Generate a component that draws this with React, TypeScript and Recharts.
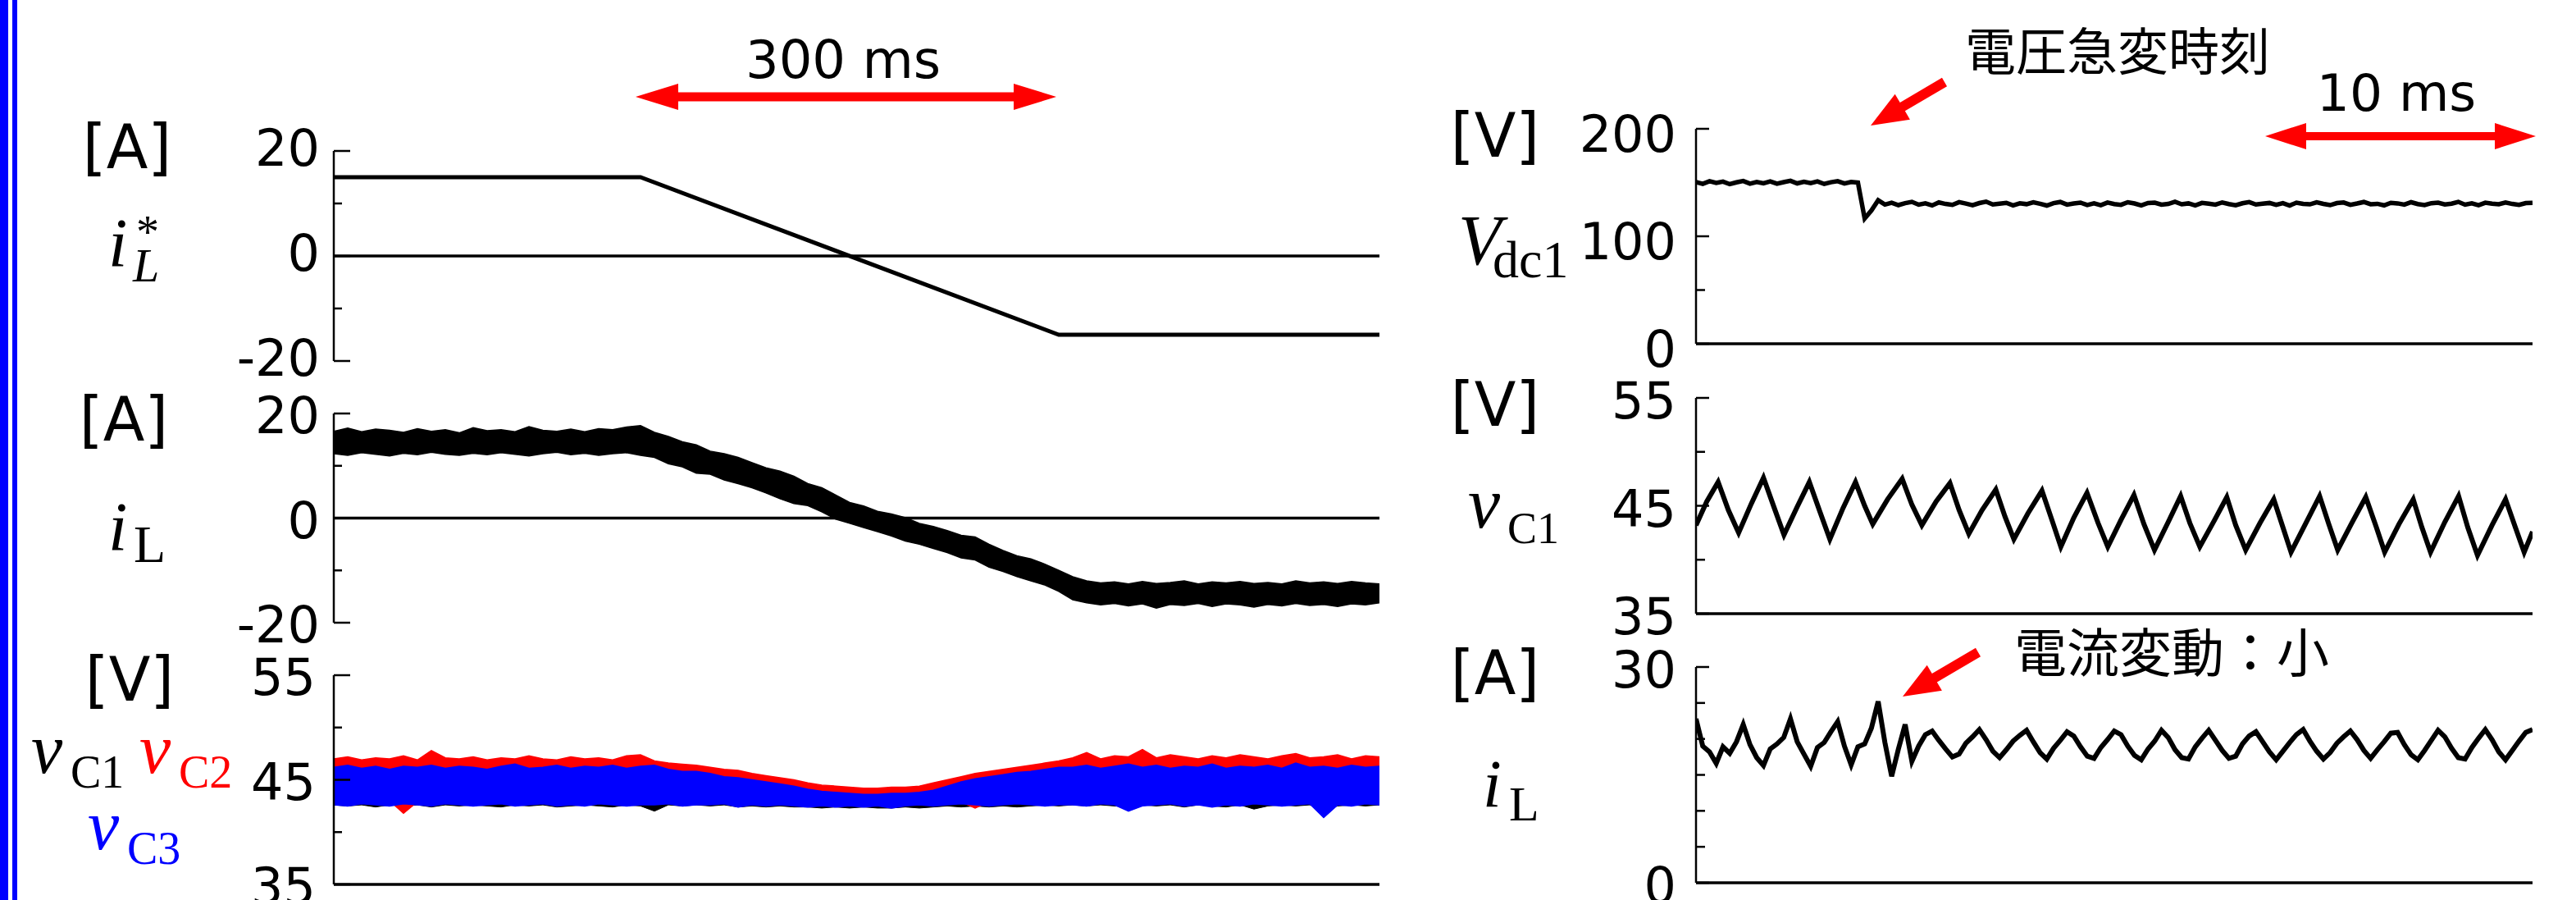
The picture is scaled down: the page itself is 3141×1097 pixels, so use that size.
import React from "react";
import { ComposedChart, Line, Area, XAxis, YAxis, ReferenceLine } from "recharts";

// sample periods of the scope traces
const LEFT_DT = 10; // ms, left column (750 ms window)
const RIGHT_DT = 0.25; // ms, right column (31 ms window)

// i_L* command
const cmdT = [0, 220, 520, 750];
const cmdV = [15, 15, -15, -15];

// i_L (left) band, upper / lower edge every 10 ms
const iLHi = [
  16.6, 17.2, 16.5, 17.0, 16.8, 16.4, 17.1, 16.6, 16.9, 16.3, 17.3, 16.7, 16.9, 16.5, 17.5, 16.8, 16.6, 17.0, 16.5, 17.1, 16.9, 17.4, 17.7,
  16.4, 15.6, 14.6, 14.0, 12.8, 12.3, 11.6, 10.6, 9.6, 9.0, 8.0, 6.6, 5.8, 4.4, 3.0, 2.3, 1.3, 0.8, 0.1, -1.0, -1.6, -2.4, -3.3, -3.6, -5.0, -6.2, -7.2, -7.8, -8.8, -10.0, -11.2, -12.0,
  -12.4, -12.2, -12.6, -12.1, -12.5, -12.3, -12.0, -12.6, -12.2, -12.4, -12.1, -12.5, -12.3, -12.6, -12.0, -12.4, -12.2, -12.5, -12.1, -12.4, -12.6,
];
const iLLo = [
  12.3, 12.0, 12.5, 12.2, 11.9, 12.4, 12.1, 12.6, 12.2, 12.0, 12.4, 12.1, 12.5, 12.2, 11.9, 12.3, 12.6, 12.1, 12.4, 12.0, 12.3, 12.5, 12.0,
  11.6, 10.4, 9.8, 8.6, 8.4, 7.3, 6.6, 5.8, 4.8, 3.7, 2.8, 2.4, 1.2, -0.2, -1.0, -1.8, -2.6, -3.4, -4.4, -5.0, -5.8, -6.6, -7.6, -8.0, -9.4, -10.2, -11.2, -12.0, -12.8, -14.0, -15.6, -16.2,
  -16.6, -16.3, -16.8, -16.4, -17.2, -16.5, -16.7, -16.3, -16.9, -16.4, -16.6, -17.0, -16.5, -16.8, -16.3, -16.7, -16.5, -16.9, -16.4, -16.6, -16.2,
];

// capacitor voltages (left), band edges every 10 ms
const vC1Hi = [
  45.9, 46.0, 45.8, 46.1, 45.9, 45.8, 46.0, 45.9, 46.1, 45.8, 46.0, 45.9, 45.8, 46.1, 45.9, 46.0, 45.8, 45.9, 46.1, 45.9, 46.0, 45.8, 46.0,
  45.9, 45.7, 45.5, 45.4, 45.2, 45.0, 44.9, 44.7, 44.5, 44.3, 44.1, 43.9, 43.7, 43.6, 43.5, 43.4, 43.4, 43.5, 43.5, 43.6, 43.8, 44.1, 44.5, 44.8, 45.0, 45.2, 45.4, 45.5, 45.7, 45.9,
  45.9, 46.1, 45.8, 46.0, 45.9, 46.1, 45.8, 46.0, 45.9, 46.1, 45.8, 46.0, 45.9, 45.8, 46.1, 45.9, 46.0, 45.8, 46.1, 45.9, 46.0, 45.8, 45.9,
];
const vC1Lo = [
  42.6, 42.5, 42.6, 42.4, 42.6, 42.5, 42.6, 42.4, 42.6, 42.5, 42.6, 42.5, 42.4, 42.6, 42.5, 42.6, 42.4, 42.5, 42.6, 42.5, 42.4, 42.6, 42.5,
  42.0, 42.6, 42.5, 42.6, 42.5, 42.6, 42.4, 42.5, 42.4, 42.5, 42.4, 42.4, 42.3, 42.4, 42.3, 42.4, 42.3, 42.3, 42.4, 42.3, 42.4, 42.5, 42.4, 42.5, 42.4, 42.5, 42.4, 42.5, 42.6, 42.5,
  42.6, 42.5, 42.6, 42.5, 42.4, 42.6, 42.5, 42.6, 42.4, 42.6, 42.5, 42.4, 42.6, 42.2, 42.5, 42.6, 42.5, 42.6, 42.1, 42.5, 42.6, 42.5, 42.6,
];
const vC2Hi = [
  47.0, 47.2, 46.9, 47.1, 47.0, 47.3, 46.9, 47.8, 47.1, 47.0, 47.2, 46.9, 47.1, 47.0, 47.3, 47.0, 46.9, 47.2, 47.0, 47.1, 46.9, 47.3, 47.4,
  46.8, 46.6, 46.5, 46.4, 46.2, 46.0, 45.9, 45.6, 45.4, 45.2, 45.0, 44.7, 44.5, 44.4, 44.3, 44.2, 44.2, 44.3, 44.3, 44.4, 44.7, 45.0, 45.3, 45.6, 45.8, 46.0, 46.2, 46.4, 46.6, 46.8,
  47.1, 47.6, 47.0, 47.3, 47.2, 47.9, 47.1, 47.4, 47.2, 47.0, 47.3, 47.1, 47.4, 47.2, 47.0, 47.3, 47.5, 47.1, 47.2, 47.4, 47.0, 47.3, 47.2,
];
const vC2Lo = [
  43.0, 42.9, 43.1, 42.8, 43.0, 41.8, 42.9, 43.0, 42.8, 43.1, 43.0, 42.9, 43.1, 42.9, 43.0, 42.8, 43.1, 43.0, 42.9, 43.0, 43.1, 42.9, 43.0,
  43.0, 42.9, 43.0, 42.9, 43.0, 42.8, 42.9, 43.0, 42.9, 42.8, 42.9, 42.8, 42.7, 42.8, 42.7, 42.8, 42.7, 42.8, 42.7, 42.8, 42.9, 42.8, 42.9, 42.3, 42.9, 43.0, 42.9, 43.0, 42.9, 43.0,
  43.0, 42.9, 43.1, 42.9, 43.0, 42.8, 43.0, 43.1, 42.9, 43.0, 42.8, 43.1, 43.0, 42.9, 43.0, 43.1, 42.9, 43.0, 42.8, 43.0, 43.1, 42.9, 43.0,
];
const vC3Hi = [
  46.2, 46.4, 46.1, 46.3, 46.0, 46.3, 46.2, 46.4, 46.1, 46.3, 46.2, 46.0, 46.3, 46.5, 46.1, 46.2, 46.4, 46.1, 46.3, 46.2, 46.4, 46.1, 46.3,
  46.4, 46.0, 45.8, 45.8, 45.6, 45.3, 45.2, 45.0, 44.8, 44.6, 44.4, 44.1, 43.9, 43.8, 43.7, 43.6, 43.6, 43.7, 43.7, 43.8, 44.0, 44.4, 44.8, 45.1, 45.3, 45.5, 45.7, 45.8, 46.0, 46.2,
  46.2, 46.4, 46.1, 46.3, 46.5, 46.2, 46.4, 46.1, 46.3, 46.2, 46.5, 46.1, 46.3, 46.2, 46.4, 46.1, 46.6, 46.2, 46.3, 46.1, 46.4, 46.2, 46.3,
];
const vC3Lo = [
  42.6, 42.5, 42.7, 42.6, 42.5, 42.7, 42.6, 42.5, 42.7, 42.6, 42.5, 42.6, 42.7, 42.5, 42.6, 42.7, 42.5, 42.6, 42.5, 42.7, 42.6, 42.5, 42.6,
  42.6, 42.7, 42.5, 42.6, 42.6, 42.7, 42.4, 42.6, 42.5, 42.6, 42.5, 42.4, 42.5, 42.4, 42.5, 42.4, 42.5, 42.3, 42.5, 42.6, 42.5, 42.6, 42.7, 42.6, 42.5, 42.6, 42.7, 42.6, 42.5, 42.6,
  42.6, 42.5, 42.7, 42.6, 42.0, 42.5, 42.6, 42.7, 42.5, 42.6, 42.4, 42.6, 42.5, 42.7, 42.6, 42.5, 42.6, 42.7, 41.4, 42.6, 42.5, 42.7, 42.6,
];

// right column: V_dc1 every 0.25 ms
const vdc1 = [
  150.5, 148.8, 151.2, 149.6, 150.9, 148.5, 150.2, 151.4, 149.0, 150.6, 149.3, 151.0, 148.9, 150.4, 151.6, 149.2, 150.7, 149.5, 151.1, 148.7, 150.3, 151.3, 149.1, 150.6, 150.0,
  116.5, 124.0, 133.5, 129.5,
  131.2, 129.0, 130.8, 132.0, 129.4, 130.6, 128.7, 131.5, 130.1, 129.2,
  131.8, 130.4, 128.9, 130.9, 132.2, 129.6, 130.3, 131.1, 128.8, 130.7,
  129.9, 131.6, 130.2, 128.6, 130.8, 131.9, 129.5, 130.5, 131.3, 129.1,
  130.6, 128.9, 131.4, 130.0, 129.3, 131.7, 130.5, 128.7, 130.9, 131.2,
  129.4, 130.1, 132.1, 129.8, 130.6, 128.8, 131.0, 130.3, 129.5, 131.5,
  130.0, 128.9, 130.7, 131.8, 129.6, 130.4, 131.0, 129.2, 130.8, 128.6,
  131.3, 130.1, 129.7, 131.6, 130.2, 129.0, 130.9, 131.4, 129.3, 130.5,
  131.9, 129.8, 130.2, 128.8, 131.1, 130.6, 129.5, 131.7, 130.0, 129.1,
  130.8, 131.3, 129.6, 130.4, 132.0, 129.4, 130.7, 128.9, 131.2, 130.3,
  129.8, 131.5, 130.1, 129.2, 130.9, 131.1,
];

// right column: v_C1 ripple, turning points (ms, V)
const vC1RT = [
  0.0, 0.4, 0.82, 1.2, 1.58, 2.05, 2.5, 2.9, 3.26, 3.75, 4.2, 4.6, 4.96, 5.45, 5.91, 6.25, 6.55, 7.1, 7.64, 8.0,
  8.37, 8.9, 9.41, 9.75, 10.11, 10.6, 11.11, 11.45, 11.78, 12.3, 12.82, 13.2, 13.52, 14.0, 14.49, 14.9, 15.26, 15.75, 16.23, 16.6,
  16.99, 17.5, 17.96, 18.3, 18.67, 19.2, 19.67, 20.0, 20.37, 20.9, 21.41, 21.75, 22.05, 22.6, 23.11, 23.45, 23.78, 24.3, 24.82, 25.2,
  25.52, 26.05, 26.58, 26.9, 27.22, 27.75, 28.26, 28.6, 28.96, 29.5, 30.0, 30.35, 30.69, 31.0,
];
const vC1RV = [
  43.2, 45.4, 47.2, 44.6, 42.5, 45.2, 47.6, 44.8, 42.3, 44.9, 47.2, 44.4, 41.9, 44.8, 47.2, 45.0, 43.3, 45.6, 47.5, 45.1,
  43.2, 45.4, 47.1, 44.6, 42.4, 44.6, 46.5, 44.0, 41.9, 44.3, 46.4, 43.6, 41.2, 43.9, 46.2, 43.4, 41.2, 43.7, 46.0, 43.3,
  40.9, 43.5, 45.9, 43.4, 41.2, 43.6, 45.8, 43.2, 40.9, 43.4, 45.6, 43.0, 40.7, 43.4, 45.9, 43.3, 40.9, 43.4, 45.8, 43.1,
  40.7, 43.3, 45.6, 43.0, 40.7, 43.5, 45.9, 43.0, 40.4, 43.2, 45.6, 43.1, 40.7, 42.6,
];

// right column: i_L every 0.25 ms
const iLR = [
  22.8, 19.0, 18.2, 16.6, 18.9, 18.0, 19.6, 22.0, 19.2, 17.4, 16.3, 18.6, 19.3, 20.2, 22.8, 19.6, 17.9, 16.2, 18.8, 19.5, 21.0, 22.4, 19.0, 16.4, 18.9, 19.3,
  21.5, 25.2, 19.5, 14.8, 18.6, 22.0, 16.9,
  19.0, 20.6, 21.1, 19.8, 18.6, 17.5, 17.9, 19.4, 20.3, 21.3, 19.9, 18.3, 17.4, 18.5, 19.7, 20.5, 21.2, 19.6, 18.1, 17.2, 18.7, 19.8,
  21.0, 20.4, 18.9, 17.6, 17.3, 18.8, 19.9, 21.1, 20.6, 19.0, 17.7, 17.1, 18.6, 19.7, 21.2, 20.2, 18.5, 17.4, 17.2, 18.9, 20.1, 21.2,
  19.8, 18.4, 17.3, 17.6, 19.3, 20.4, 21.0, 19.6, 18.2, 17.1, 18.3, 19.5, 20.6, 21.3, 19.7, 18.3, 17.2, 18.1, 19.4, 20.3, 21.1, 19.9,
  18.4, 17.3, 18.5, 19.6, 20.8, 20.9, 19.2, 17.8, 17.1, 18.4, 19.8, 21.2, 20.3, 18.7, 17.4, 17.2, 18.8, 20.1, 21.3, 19.9, 18.2, 17.1,
  18.4, 19.7, 20.9, 21.3,
];

const ticksA = [-20, -10, 0, 10, 20];
const majorA = [-20, 0, 20];
const ticksV = [35, 40, 45, 50, 55];
const majorV = [35, 45, 55];
const ticksVdc = [0, 50, 100, 150, 200];
const majorVdc = [0, 100, 200];
const ticksIR = [0, 5, 10, 15, 20, 25, 30];
const majorIR = [0, 30];

const cmdData = cmdT.map((t, i) => ({ t, v: cmdV[i] }));
const leftData = iLHi.map((h, i) => ({
  t: i * LEFT_DT,
  iL: [iLLo[i], h],
  vc1: [vC1Lo[i], vC1Hi[i]],
  vc2: [vC2Lo[i], vC2Hi[i]],
  vc3: [vC3Lo[i], vC3Hi[i]],
}));
const vdcData = vdc1.map((v, i) => ({ t: i * RIGHT_DT, v }));
const vc1RData = vC1RT.map((t, i) => ({ t, v: vC1RV[i] }));
const iLRData = iLR.map((v, i) => ({ t: i * RIGHT_DT, v }));

const NUM_FONT = "DejaVu Sans";
const MATH_FONT = "Liberation Serif";
const JP_FONT = "Noto Sans CJK JP";

const tickFn = (majors: number[], gap: number, dy: number, majorLen: number, minorLen: number) => (p: any) => {
  const { x, y, payload } = p;
  const major = majors.includes(payload.value);
  return (
    <g>
      <line x1={x} x2={x + (major ? majorLen : minorLen)} y1={y} y2={y} stroke="#000" strokeWidth={2.5} />
      {major && (
        <text x={x - gap} y={y + dy} textAnchor="end" fontFamily={NUM_FONT} fontSize={62} fill="#000">
          {payload.value}
        </text>
      )}
    </g>
  );
};

const PAD = 60;

function Panel(p: {
  x: number; top: number; h: number; w: number; axisW: number; mr: number;
  xDomain: number[]; yDomain: number[]; ticks: number[]; tick: any; base: number; data: any[]; children: React.ReactNode;
}) {
  return (
    <div style={{ position: "absolute", left: p.x, top: p.top - PAD }}>
      <ComposedChart width={p.w} height={p.h + 2 * PAD} data={p.data} margin={{ top: PAD, bottom: PAD, left: 0, right: p.mr }}>
        <XAxis type="number" dataKey="t" domain={p.xDomain} hide allowDataOverflow />
        <YAxis
          type="number" domain={p.yDomain} ticks={p.ticks} interval={0} width={p.axisW}
          tickSize={0} tickMargin={0} tickLine={false} axisLine={{ stroke: "#000", strokeWidth: 2.5 }}
          tick={p.tick} allowDataOverflow
        />
        <ReferenceLine y={p.base} stroke="#000" strokeWidth={3.5} />
        {p.children}
      </ComposedChart>
    </div>
  );
}

function Guide(p: { x: number; top: number; bottom: number; w: number; axisW: number; mr: number; xDomain: number[]; at: number[] }) {
  return (
    <div style={{ position: "absolute", left: p.x, top: p.top }}>
      <ComposedChart width={p.w} height={p.bottom - p.top} data={[{ t: p.xDomain[0] }, { t: p.xDomain[1] }]}
        margin={{ top: 0, bottom: 0, left: p.axisW, right: p.mr }}>
        <XAxis type="number" dataKey="t" domain={p.xDomain} hide />
        <YAxis type="number" domain={[0, 1]} hide />
        {p.at.map((v) => (
          <ReferenceLine key={v} x={v} stroke="#222" strokeWidth={1.2} strokeDasharray="5 4" />
        ))}
      </ComposedChart>
    </div>
  );
}

function dblArrow(x1: number, x2: number, y: number, head: number, hh: number, sh: number) {
  return [
    [x1, y], [x1 + head, y - hh], [x1 + head, y - sh], [x2 - head, y - sh], [x2 - head, y - hh], [x2, y],
    [x2 - head, y + hh], [x2 - head, y + sh], [x1 + head, y + sh], [x1 + head, y + hh],
  ].map((q) => q.join(",")).join(" ");
}

function arrow(tx: number, ty: number, sx: number, sy: number, head: number, hw: number, sw: number) {
  const L = Math.hypot(sx - tx, sy - ty);
  const ux = (sx - tx) / L, uy = (sy - ty) / L;
  const nx = -uy, ny = ux;
  const bx = tx + ux * head, by = ty + uy * head;
  return [
    [tx, ty], [bx + nx * hw, by + ny * hw], [bx + nx * sw, by + ny * sw], [sx + nx * sw, sy + ny * sw],
    [sx - nx * sw, sy - ny * sw], [bx - nx * sw, by - ny * sw], [bx - nx * hw, by - ny * hw],
  ].map((q) => q.join(",")).join(" ");
}

const L_X = 200, L_W = 1500, L_AXW = 207, L_MR = 18; // left plot 407..1682
const R_X = 1900, R_W = 1241, R_AXW = 168, R_MR = 53; // right plot 2068..3088

export default function App() {
  const unit = { fontFamily: NUM_FONT, fontSize: 74, textAnchor: "middle" as const };
  const it = { fontFamily: MATH_FONT, fontStyle: "italic" as const };
  const up = { fontFamily: MATH_FONT };
  return (
    <div style={{ position: "absolute", left: 0, top: 0, width: 3141, height: 1097, background: "#fff", overflow: "hidden" }}>
      <Guide x={L_X} top={182} bottom={1077} w={L_W} axisW={L_AXW} mr={L_MR} xDomain={[0, 750]} at={[220, 520]} />
      <Guide x={R_X} top={153} bottom={1077} w={R_W} axisW={R_AXW} mr={R_MR} xDomain={[0, 31]} at={[6.4]} />

      <Panel x={L_X} top={184} h={256} w={L_W} axisW={L_AXW} mr={L_MR} xDomain={[0, 750]} yDomain={[-20, 20]}
        ticks={ticksA} tick={tickFn(majorA, 17, 18, 20, 10)} base={0} data={cmdData}>
        <Line type="linear" dataKey="v" stroke="#000" strokeWidth={5} dot={false} activeDot={false} isAnimationActive={false} />
      </Panel>
      <Panel x={L_X} top={504} h={255} w={L_W} axisW={L_AXW} mr={L_MR} xDomain={[0, 750]} yDomain={[-20, 20]}
        ticks={ticksA} tick={tickFn(majorA, 17, 24, 20, 10)} base={0} data={leftData}>
        <Area type="linear" dataKey="iL" stroke="#000" strokeWidth={1.5} fill="#000" fillOpacity={1} dot={false} activeDot={false} isAnimationActive={false} />
      </Panel>
      <Panel x={L_X} top={823} h={255} w={L_W} axisW={L_AXW} mr={L_MR} xDomain={[0, 750]} yDomain={[35, 55]}
        ticks={ticksV} tick={tickFn(majorV, 22, 24, 20, 10)} base={35} data={leftData}>
        <Area type="linear" dataKey="vc1" stroke="#000" strokeWidth={1} fill="#000" fillOpacity={1} dot={false} activeDot={false} isAnimationActive={false} />
        <Area type="linear" dataKey="vc2" stroke="#ff0000" strokeWidth={1.5} fill="#ff0000" fillOpacity={1} dot={false} activeDot={false} isAnimationActive={false} />
        <Area type="linear" dataKey="vc3" stroke="#0000ff" strokeWidth={1.5} fill="#0000ff" fillOpacity={1} dot={false} activeDot={false} isAnimationActive={false} />
      </Panel>

      <Panel x={R_X} top={157} h={262} w={R_W} axisW={R_AXW} mr={R_MR} xDomain={[0, 31]} yDomain={[0, 200]}
        ticks={ticksVdc} tick={tickFn(majorVdc, 24, 28, 16, 11)} base={0} data={vdcData}>
        <Line type="linear" dataKey="v" stroke="#000" strokeWidth={5.5} dot={false} activeDot={false} isAnimationActive={false} />
      </Panel>
      <Panel x={R_X} top={485} h={263} w={R_W} axisW={R_AXW} mr={R_MR} xDomain={[0, 31]} yDomain={[35, 55]}
        ticks={ticksV} tick={tickFn(majorV, 24, 25, 16, 11)} base={35} data={vc1RData}>
        <Line type="linear" dataKey="v" stroke="#000" strokeWidth={6} dot={false} activeDot={false} isAnimationActive={false} />
      </Panel>
      <Panel x={R_X} top={813} h={263} w={R_W} axisW={R_AXW} mr={R_MR} xDomain={[0, 31]} yDomain={[0, 30]}
        ticks={ticksIR} tick={tickFn(majorIR, 24, 25, 16, 11)} base={0} data={iLRData}>
        <Line type="linear" dataKey="v" stroke="#000" strokeWidth={6} dot={false} activeDot={false} isAnimationActive={false} />
      </Panel>

      <svg width={3141} height={1097} style={{ position: "absolute", left: 0, top: 0, pointerEvents: "none" }}>
        <rect x={0} y={0} width={10} height={1097} fill="#0000ff" />
        <rect x={15} y={0} width={6} height={1097} fill="#0000ff" />

        <text x={155} y={205} {...unit}>[A]</text>
        <text x={151} y={537} {...unit}>[A]</text>
        <text x={158} y={854} {...unit}>[V]</text>
        <text x={1823} y={191} {...unit}>[V]</text>
        <text x={1823} y={519} {...unit}>[V]</text>
        <text x={1823} y={846} {...unit}>[A]</text>

        <text x={132} y={325} fontSize={84} {...it}>i</text>
        <text x={162} y={343} fontSize={58} {...it}>L</text>
        <text x={166} y={302} fontSize={56} {...up}>*</text>

        <text x={132} y={671} fontSize={84} {...it}>i</text>
        <text x={163} y={685} fontSize={64} {...up}>L</text>

        <text x={38} y={942} fontSize={86} {...it}>v</text>
        <text x={86} y={960} fontSize={56} {...up}>C1</text>
        <text x={170} y={942} fontSize={86} fill="#ff0000" {...it}>v</text>
        <text x={218} y={960} fontSize={56} fill="#ff0000" {...up}>C2</text>
        <text x={107} y={1035} fontSize={86} fill="#0000ff" {...it}>v</text>
        <text x={155} y={1053} fontSize={56} fill="#0000ff" {...up}>C3</text>

        <text x={1778} y={322} fontSize={86} {...it}>V</text>
        <text x={1820} y={338} fontSize={64} {...up}>dc1</text>
        <text x={1790} y={643} fontSize={88} {...it}>v</text>
        <text x={1838} y={662} fontSize={54} {...up}>C1</text>
        <text x={1808} y={983} fontSize={82} {...it}>i</text>
        <text x={1840} y={1000} fontSize={60} {...up}>L</text>

        <text x={1028} y={95} fontFamily={NUM_FONT} fontSize={64} textAnchor="middle">300 ms</text>
        <polygon points={dblArrow(775, 1288, 118, 52, 16, 5.5)} fill="#ff0000" />
        <text x={2922} y={135} fontFamily={NUM_FONT} fontSize={63} textAnchor="middle">10 ms</text>
        <polygon points={dblArrow(2762, 3092, 166, 50, 16, 5)} fill="#ff0000" />

        <text x={2396} y={86} fontFamily={JP_FONT} fontSize={62}>電圧急変時刻</text>
        <polygon points={arrow(2281, 153, 2371, 100, 45, 18, 6)} fill="#ff0000" />
        <text x={2456} y={819} fontFamily={JP_FONT} fontSize={64}>電流変動：小</text>
        <polygon points={arrow(2320, 849, 2412, 795, 45, 18, 6)} fill="#ff0000" />
      </svg>
    </div>
  );
}
